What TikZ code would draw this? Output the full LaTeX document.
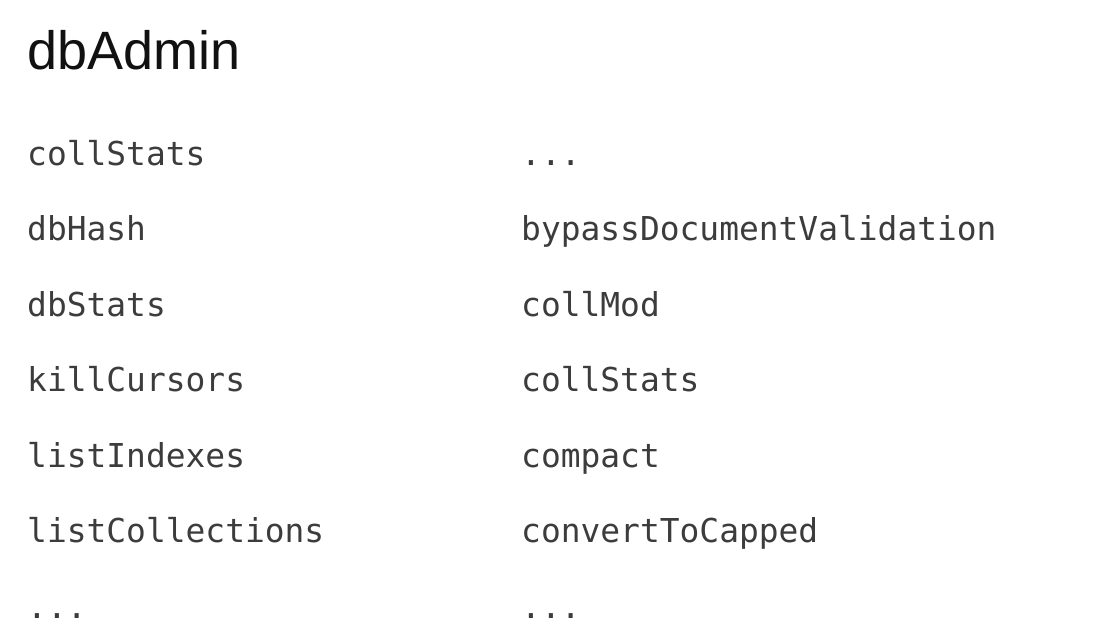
\documentclass[tikz,border=0pt]{standalone}
\usepackage{fontspec}
\setmainfont{Liberation Sans}
\newfontfamily\monof{DejaVu Sans Mono}
\definecolor{titlec}{HTML}{111111}
\definecolor{itemc}{HTML}{3C3C3C}
\begin{document}
\begin{tikzpicture}[x=1pt,y=1pt,
  titlest/.style={anchor=base west,inner sep=0pt,text=titlec,font=\fontsize{54}{60}\selectfont},
  itemst/.style={anchor=base west,inner sep=0pt,text=itemc,font=\monof\fontsize{32.9}{38}\selectfont}]
\useasboundingbox (0,0) rectangle (1108,644);
\node[titlest] (title) at (27,574.5) {dbAdmin};
% left column
\node[itemst] (l1) at (27,478.5) {collStats};
\node[itemst] (l2) at (27,403) {dbHash};
\node[itemst] (l3) at (27,327.5) {dbStats};
\node[itemst] (l4) at (27,252) {killCursors};
\node[itemst] (l5) at (27,176.5) {listIndexes};
\node[itemst] (l6) at (27,101) {listCollections};
\node[itemst] (l7) at (27,25.5) {...};
% right column
\node[itemst] (r1) at (521,478.5) {...};
\node[itemst] (r2) at (521,403) {bypassDocumentValidation};
\node[itemst] (r3) at (521,327.5) {collMod};
\node[itemst] (r4) at (521,252) {collStats};
\node[itemst] (r5) at (521,176.5) {compact};
\node[itemst] (r6) at (521,101) {convertToCapped};
\node[itemst] (r7) at (521,25.5) {...};
\end{tikzpicture}
\end{document}
